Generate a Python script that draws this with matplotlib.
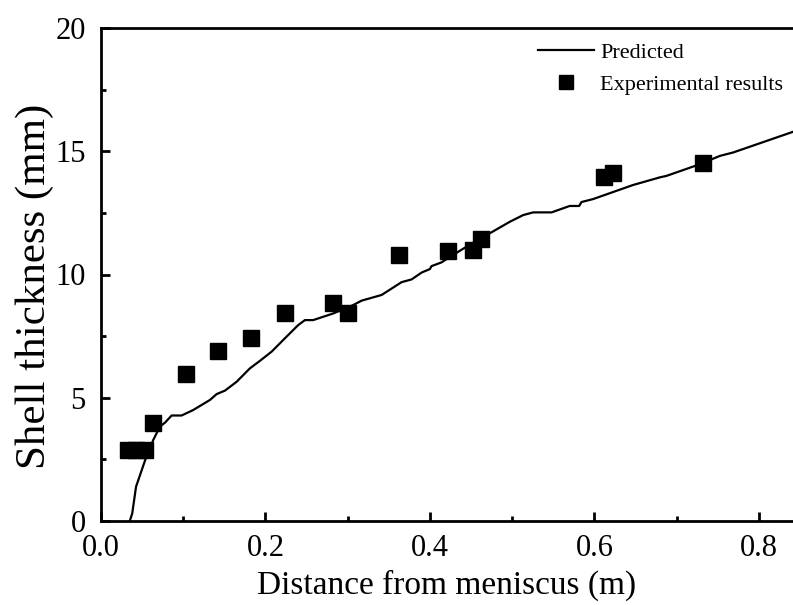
import numpy as np
import matplotlib
matplotlib.use("Agg")
import matplotlib.pyplot as plt
from matplotlib.ticker import MultipleLocator

plt.rcParams['font.family'] = ['Liberation Serif', 'DejaVu Serif']
plt.rcParams['mathtext.fontset'] = 'stix'

pred_x = [0.035, 0.038, 0.0426, 0.0535, 0.0636, 0.0717, 0.0778, 0.0859, 0.098,
          0.112, 0.1325, 0.1407, 0.1508, 0.165, 0.181, 0.193, 0.2075, 0.2257,
          0.2399, 0.248, 0.258, 0.2825, 0.3067, 0.317, 0.3413, 0.3656, 0.3777,
          0.39, 0.40, 0.402, 0.414, 0.428, 0.4446, 0.469, 0.4973, 0.5134,
          0.5256, 0.548, 0.570, 0.5815, 0.5844, 0.5985, 0.647, 0.6796, 0.6877,
          0.728, 0.7526, 0.7688, 0.8417, 0.85]
pred_y = [0.0, 0.31, 1.39, 2.45, 3.29, 3.83, 3.99, 4.28, 4.28,
          4.50, 4.91, 5.15, 5.29, 5.65, 6.19, 6.49, 6.87, 7.48,
          7.95, 8.15, 8.15, 8.42, 8.76, 8.94, 9.17, 9.69, 9.80,
          10.08, 10.22, 10.34, 10.49, 10.79, 11.13, 11.60, 12.14, 12.41,
          12.52, 12.52, 12.78, 12.78, 12.94, 13.06, 13.63, 13.94, 14.0,
          14.47, 14.81, 14.95, 15.79, 15.92]

# experimental results
exp_x = [0.033, 0.043, 0.053, 0.063, 0.103, 0.142, 0.183, 0.224, 0.282, 0.301,
         0.363, 0.422, 0.453, 0.462, 0.612, 0.623, 0.732]
exp_y = [2.9, 2.9, 2.9, 3.96, 5.95, 6.91, 7.44, 8.45, 8.86, 8.45,
         10.79, 10.96, 10.99, 11.43, 13.94, 14.13, 14.51]

fig = plt.figure(figsize=(7.93, 6.05), dpi=100)
ax = fig.add_axes([101 / 793, 1 - 521 / 605, 1 - 101 / 793, (521 - 28) / 605])

ax.plot(pred_x, pred_y, color='black', linewidth=1.6, label='Predicted')
ax.plot(exp_x, exp_y, linestyle='none', marker='s', markersize=11.3,
        color='black', label='Experimental results')

ax.set_xlim(0, 0.8416)
ax.set_ylim(0, 20)
ax.xaxis.set_major_locator(MultipleLocator(0.2))
ax.xaxis.set_minor_locator(MultipleLocator(0.1))
ax.yaxis.set_major_locator(MultipleLocator(5))
ax.yaxis.set_minor_locator(MultipleLocator(2.5))
ax.xaxis.set_major_formatter(plt.FuncFormatter(lambda v, p: '%.1f' % v))

for s in ['left', 'bottom', 'top']:
    ax.spines[s].set_linewidth(2.0)
ax.spines['right'].set_visible(False)

ax.tick_params(which='both', direction='in', width=2.0, labelsize=22,
               top=False, right=False)
ax.tick_params(which='major', length=6.5)
ax.tick_params(axis='x', which='major', pad=9)
ax.tick_params(axis='y', which='major', pad=11)
ax.tick_params(which='minor', length=3.5)

ax.set_xlabel('Distance from meniscus (m)', fontsize=24, labelpad=5)
ax.set_ylabel('Shell thickness (mm)', fontsize=31)
ax.yaxis.set_label_coords(-0.068, 0.475)

ax.legend(loc='upper left', bbox_to_anchor=(538 / 793, 1 - 42 / 605),
          bbox_transform=fig.transFigure, frameon=False, fontsize=16,
          handlelength=2.5, handletextpad=0.3, labelspacing=0.53,
          borderpad=0, borderaxespad=0, markerscale=0.86)

fig.savefig('out.png', dpi=100)
